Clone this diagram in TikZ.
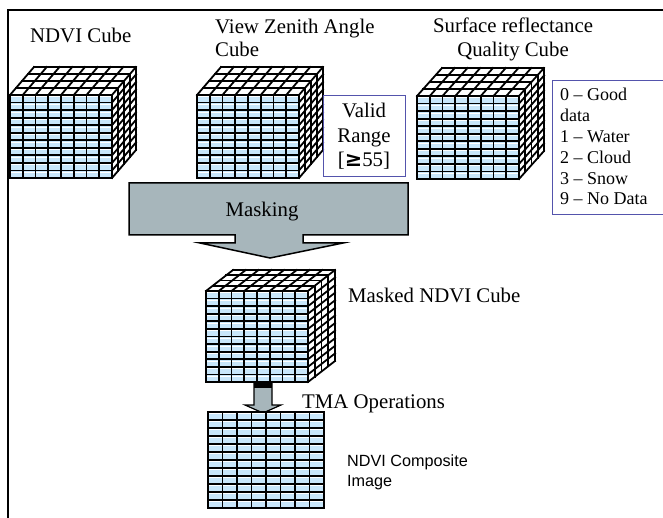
\documentclass[tikz,border=0pt]{standalone}
\usepackage{fontspec}
\setmainfont{Liberation Serif}
\newfontfamily\sansfam{Liberation Sans}
\newfontfamily\symfam{DejaVu Sans}
\definecolor{cellblue}{HTML}{C8E6FA}
\definecolor{maskgray}{HTML}{A7B6BB}
\definecolor{boxblue}{HTML}{5454AC}
\tikzset{
  gridline/.style={black, line width=1.8pt, line cap=rect},
  shine/.style={white, line width=0.5pt},
  lbl/.style={inner sep=0pt, font=\fontsize{20.8}{24}\selectfont},
  legendlbl/.style={inner sep=0pt, font=\fontsize{18}{21}\selectfont},
  sanslbl/.style={inner sep=0pt, font=\sansfam\fontsize{16.2}{20}\selectfont},
  infobox/.style={draw=boxblue, line width=0.9pt},
  blockarrow/.style={draw=black, line width=1.5pt, fill=maskgray, line join=miter},
}
% front face of cells: x, y (top left), width, height, columns, rows
\newcommand{\gridface}[6]{%
  \fill[cellblue] (#1,#2) rectangle ({#1+#3},{#2+#4});
  \foreach \r in {1,...,#6}
    \draw[shine] (#1,{#2+(\r-1)*#4/#6+1.7}) -- ++(#3,0);
  \foreach \i in {0,...,#5}
    \draw[gridline] ({#1+\i*#3/#5},#2) -- ++(0,#4);
  \foreach \j in {0,...,#6}
    \draw[gridline] (#1,{#2+\j*#4/#6}) -- ++(#3,0);
}
% data cube: front face as above, plus depth dx, dy with four layers
\newcommand{\gridcube}[8]{%
  \fill[white] (#1,#2) -- ({#1+#3},#2) -- ({#1+#3+#7},{#2-#8}) -- ({#1+#7},{#2-#8}) -- cycle;
  \fill[white] ({#1+#3},#2) -- ({#1+#3+#7},{#2-#8}) -- ({#1+#3+#7},{#2+#4-#8}) -- ({#1+#3},{#2+#4}) -- cycle;
  \gridface{#1}{#2}{#3}{#4}{#5}{#6}
  \foreach \i in {0,...,#5}
    \draw[gridline] ({#1+\i*#3/#5},#2) -- ++(#7,-#8);
  \foreach \k in {1,...,4}
    \draw[gridline] ({#1+\k*#7/4},{#2-\k*#8/4}) -- ++(#3,0);
  \foreach \k in {1,...,4}
    \draw[gridline] ({#1+#3+\k*#7/4},{#2-\k*#8/4}) -- ++(0,#4);
  \foreach \j in {1,...,#6}
    \draw[gridline] ({#1+#3},{#2+\j*#4/#6}) -- ++(#7,-#8);
}
\begin{document}
\begin{tikzpicture}[x=1pt,y=-1pt]
\useasboundingbox (0,0) rectangle (663,518);
\fill[white] (0,0) rectangle (663,518);

% frame
\draw[line width=1.6pt] (8,518) -- (8,10) -- (663,10);

% input cubes
\gridcube{10}{95}{102}{83}{8}{11}{24}{28}
\gridcube{197}{95}{102}{83}{8}{11}{24}{28}
\gridcube{417}{96}{102}{83}{8}{11}{25}{28}

\node[lbl, anchor=base west] (ndvi) at (30,43) {NDVI Cube};
\node[lbl, anchor=base west] (vza1) at (215,34) {View Zenith Angle};
\node[lbl, anchor=base west] (vza2) at (215,57) {Cube};
\node[lbl, anchor=base] (srq1) at (513,33) {Surface reflectance};
\node[lbl, anchor=base] (srq2) at (513,57) {Quality Cube};

% valid range box
\draw[infobox] (323,95) rectangle (405,176);
\node[lbl, anchor=base] (vr1) at (364,118) {Valid};
\node[lbl, anchor=base] (vr2) at (364,143) {Range};
\node[lbl, anchor=base] (vr3) at (364,167) {[{\symfam\bfseries ≥}55]};

% quality flag legend
\draw[infobox] (552,80) rectangle (680,214);
\node[legendlbl, anchor=base west] (q0) at (560,101) {0 – Good};
\node[legendlbl, anchor=base west] (q0b) at (560,121.8) {data};
\node[legendlbl, anchor=base west] (q1) at (560,142.6) {1 – Water};
\node[legendlbl, anchor=base west] (q2) at (560,163.4) {2 – Cloud};
\node[legendlbl, anchor=base west] (q3) at (560,184.2) {3 – Snow};
\node[legendlbl, anchor=base west] (q9) at (560,205) {9 – No Data};

% masking step
\draw[blockarrow] (129,183) -- (408,183) -- (408,235) -- (303,235) -- (303,243)
  -- (343,243) -- (270,258) -- (200,243) -- (235,243) -- (235,235) -- (129,235) -- cycle;
\node[lbl, anchor=base] (mask) at (262,217) {Masking};

% masked cube
\gridcube{206}{291}{102}{91}{8}{12}{27}{21}
\node[lbl, anchor=base west] (mcube) at (348,302) {Masked NDVI Cube};

% temporal operation arrow
\draw[blockarrow, line width=1.2pt] (254,382) -- (272,382) -- (272,405) -- (281,405)
  -- (263,413) -- (245,405) -- (254,405) -- cycle;
\fill[black] (254,382) rectangle (272,388);
\node[lbl, anchor=base west] (tma) at (302,408) {TMA Operations};

% composite image
\gridface{208}{412}{116}{96}{8}{12}
\node[sanslbl, anchor=base west] (comp1) at (347,466) {NDVI Composite};
\node[sanslbl, anchor=base west] (comp2) at (347,486) {Image};
\end{tikzpicture}
\end{document}
